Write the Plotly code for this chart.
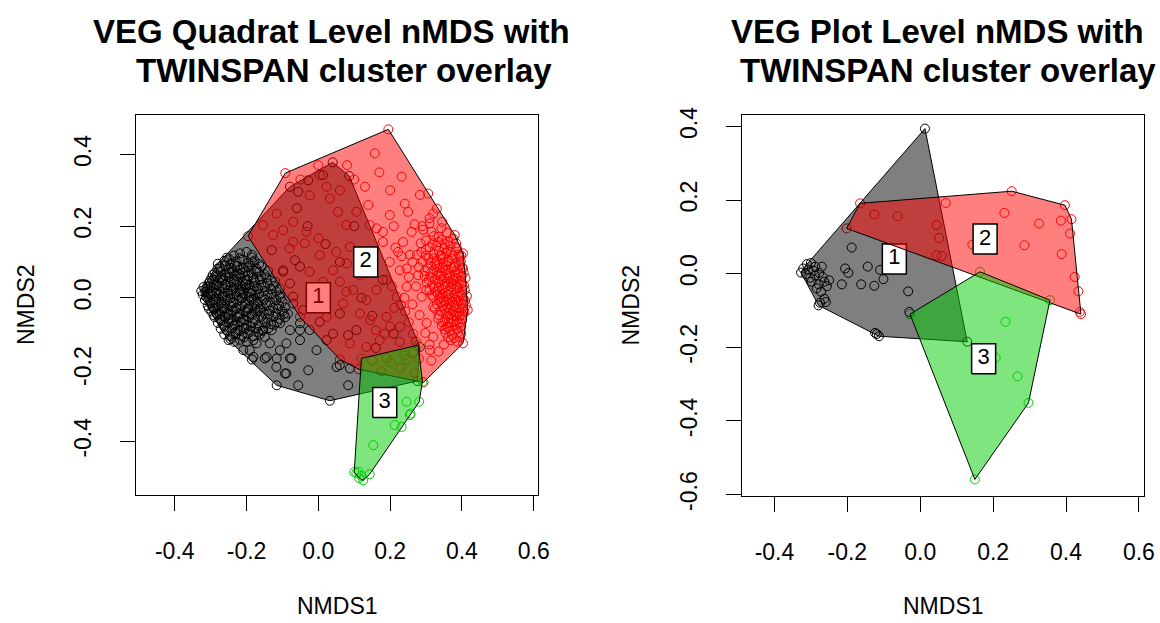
import plotly.graph_objects as go

# ---------------------------------------------------------------
# nMDS site scores (NMDS1, NMDS2) grouped by TWINSPAN cluster
# ---------------------------------------------------------------

# Quadrat level ordination
QUAD_CLUSTER1 = [
    (-0.326, 0.019), (-0.235, 0.118), (-0.218, 0.124), (-0.200, 0.128), (-0.186, 0.113),
    (-0.262, 0.103), (-0.248, 0.108), (-0.230, 0.101), (-0.212, 0.106), (-0.195, 0.098),
    (-0.178, 0.104), (-0.165, 0.094), (-0.275, 0.086), (-0.260, 0.090), (-0.243, 0.083),
    (-0.226, 0.089), (-0.208, 0.084), (-0.190, 0.090), (-0.173, 0.082), (-0.158, 0.088),
    (-0.288, 0.070), (-0.272, 0.075), (-0.255, 0.068), (-0.238, 0.073), (-0.220, 0.067),
    (-0.203, 0.074), (-0.186, 0.069), (-0.168, 0.071), (-0.150, 0.066), (-0.298, 0.055),
    (-0.283, 0.060), (-0.266, 0.053), (-0.250, 0.058), (-0.233, 0.052), (-0.216, 0.057),
    (-0.198, 0.050), (-0.181, 0.056), (-0.163, 0.052), (-0.145, 0.057), (-0.132, 0.048),
    (-0.306, 0.041), (-0.291, 0.036), (-0.276, 0.043), (-0.259, 0.037), (-0.243, 0.042),
    (-0.227, 0.035), (-0.210, 0.041), (-0.193, 0.036), (-0.176, 0.042), (-0.159, 0.035),
    (-0.141, 0.040), (-0.125, 0.033), (-0.315, 0.024), (-0.300, 0.028), (-0.285, 0.021),
    (-0.268, 0.026), (-0.252, 0.020), (-0.235, 0.027), (-0.219, 0.022), (-0.202, 0.028),
    (-0.185, 0.020), (-0.168, 0.025), (-0.150, 0.019), (-0.133, 0.024), (-0.117, 0.018),
    (-0.322, 0.009), (-0.307, 0.012), (-0.293, 0.005), (-0.277, 0.010), (-0.260, 0.004),
    (-0.244, 0.011), (-0.227, 0.006), (-0.210, 0.012), (-0.193, 0.003), (-0.176, 0.009),
    (-0.158, 0.004), (-0.141, 0.010), (-0.124, 0.002), (-0.108, 0.007), (-0.316, -0.006),
    (-0.301, -0.010), (-0.286, -0.004), (-0.270, -0.011), (-0.253, -0.005), (-0.237, -0.012),
    (-0.220, -0.006), (-0.203, -0.011), (-0.186, -0.004), (-0.169, -0.010), (-0.151, -0.005),
    (-0.134, -0.012), (-0.117, -0.006), (-0.100, -0.011), (-0.308, -0.022), (-0.294, -0.027),
    (-0.279, -0.020), (-0.262, -0.026), (-0.246, -0.021), (-0.229, -0.028), (-0.212, -0.022),
    (-0.195, -0.027), (-0.178, -0.020), (-0.161, -0.026), (-0.143, -0.021), (-0.126, -0.028),
    (-0.109, -0.022), (-0.093, -0.027), (-0.298, -0.038), (-0.284, -0.043), (-0.269, -0.037),
    (-0.253, -0.042), (-0.237, -0.036), (-0.220, -0.043), (-0.203, -0.038), (-0.186, -0.044),
    (-0.169, -0.037), (-0.152, -0.042), (-0.135, -0.036), (-0.118, -0.043), (-0.100, -0.038),
    (-0.085, -0.044), (-0.289, -0.054), (-0.274, -0.059), (-0.259, -0.053), (-0.243, -0.058),
    (-0.226, -0.052), (-0.210, -0.059), (-0.193, -0.054), (-0.176, -0.060), (-0.159, -0.053),
    (-0.142, -0.058), (-0.125, -0.052), (-0.108, -0.059), (-0.092, -0.054), (-0.280, -0.070),
    (-0.265, -0.075), (-0.249, -0.069), (-0.233, -0.074), (-0.216, -0.068), (-0.200, -0.075),
    (-0.183, -0.070), (-0.166, -0.076), (-0.149, -0.069), (-0.132, -0.074), (-0.115, -0.068),
    (-0.272, -0.086), (-0.256, -0.091), (-0.240, -0.085), (-0.223, -0.090), (-0.207, -0.084),
    (-0.190, -0.091), (-0.173, -0.086), (-0.156, -0.092), (-0.139, -0.085), (-0.262, -0.102),
    (-0.246, -0.107), (-0.230, -0.101), (-0.213, -0.106), (-0.197, -0.100), (-0.180, -0.107),
    (-0.163, -0.102), (-0.250, -0.118), (-0.234, -0.123), (-0.218, -0.117), (-0.200, -0.122),
    (-0.281, 0.081), (-0.250, 0.079), (-0.217, 0.078), (-0.294, 0.064), (-0.260, 0.063),
    (-0.228, 0.062), (-0.195, 0.062), (-0.302, 0.047), (-0.268, 0.048), (-0.236, 0.046),
    (-0.203, 0.047), (-0.310, 0.031), (-0.277, 0.032), (-0.244, 0.030), (-0.211, 0.031),
    (-0.178, 0.032), (-0.315, 0.016), (-0.284, 0.015), (-0.252, 0.014), (-0.219, 0.015),
    (-0.186, 0.013), (-0.309, -0.001), (-0.278, -0.002), (-0.245, 0.000), (-0.212, -0.001),
    (-0.179, -0.002), (-0.301, -0.016), (-0.270, -0.017), (-0.237, -0.015), (-0.204, -0.016),
    (-0.170, -0.017), (-0.291, -0.031), (-0.260, -0.032), (-0.228, -0.030), (-0.195, -0.031),
    (-0.162, -0.032), (-0.282, -0.047), (-0.250, -0.048), (-0.218, -0.046), (-0.185, -0.047),
    (-0.270, -0.063), (-0.238, -0.064), (-0.206, -0.062),
    (-0.320, 0.030), (-0.313, 0.003), (-0.305, -0.030), (-0.296, 0.018), (-0.289, 0.050),
    (-0.287, -0.012), (-0.280, 0.095), (-0.274, -0.045), (-0.271, 0.058), (-0.266, 0.005),
    (-0.262, -0.080), (-0.258, 0.035), (-0.255, 0.112), (-0.251, -0.060), (-0.247, 0.070),
    (-0.241, -0.025), (-0.239, 0.020), (-0.233, 0.090), (-0.231, -0.095), (-0.226, 0.045),
    (-0.222, -0.055), (-0.219, 0.110), (-0.214, 0.000), (-0.210, 0.070), (-0.207, -0.110),
    (-0.204, 0.038), (-0.199, -0.040), (-0.196, 0.085), (-0.191, 0.015), (-0.188, -0.080),
    (-0.183, 0.100), (-0.180, 0.050), (-0.176, -0.030), (-0.172, 0.075), (-0.168, -0.095),
    (-0.165, 0.010), (-0.160, 0.060), (-0.155, -0.060), (-0.150, 0.030), (-0.146, -0.015),
    (-0.140, 0.075), (-0.137, -0.045), (-0.130, 0.010), (-0.124, -0.075), (-0.120, 0.045),
    (-0.113, -0.030), (-0.105, 0.000), (-0.096, -0.045), (-0.300, 0.010), (-0.292, -0.048),
    (-0.283, 0.035), (-0.268, -0.030), (-0.245, 0.095), (-0.236, -0.078), (-0.215, 0.025),
    (-0.202, -0.085), (-0.185, 0.120),
    (-0.245, -0.115), (-0.185, -0.172), (-0.181, -0.165), (-0.144, -0.165), (-0.116, -0.169),
    (-0.079, -0.169), (-0.089, -0.211), (-0.028, -0.202), (-0.116, -0.244), (-0.056, -0.244),
    (0.032, -0.287), (0.083, -0.244), (0.051, -0.193), (0.088, -0.197), (-0.005, -0.146),
    (-0.051, -0.118), (-0.107, -0.146), (-0.079, -0.090), (-0.130, -0.090), (-0.107, -0.071),
    (-0.051, -0.071), (-0.172, -0.127), (-0.209, -0.146), (-0.051, -0.090), (-0.149, -0.109),
    (-0.089, -0.127), (-0.218, -0.090), (-0.181, -0.118), (-0.154, -0.090), (-0.191, -0.146),
    (-0.135, -0.127), (-0.149, -0.169), (-0.117, -0.193), (-0.075, -0.169), (-0.093, -0.211),
    (0.060, -0.188), (0.276, -0.232), (0.283, -0.137),
    (-0.079, 0.310), (-0.056, 0.296), (-0.028, 0.328), (0.013, 0.342), (0.040, 0.378),
    (0.086, 0.340), (-0.130, 0.133), (-0.098, 0.073), (-0.065, 0.105), (-0.051, 0.087),
    (-0.107, 0.026), (-0.070, 0.003), (-0.070, -0.016), (-0.042, -0.034), (-0.024, -0.090),
    (0.023, -0.118), (0.041, -0.100), (0.083, -0.104), (0.106, -0.090), (0.060, -0.044),
    (0.004, -0.067), (-0.098, 0.077), (-0.079, 0.040), (-0.030, 0.200), (0.020, 0.150),
    (-0.060, 0.250), (0.100, 0.200), (0.060, 0.100), (0.120, 0.000), (0.150, -0.050),
    (0.000, -0.020), (0.180, 0.050), (0.210, -0.100), (0.160, -0.140),
]

QUAD_CLUSTER2 = [
    (0.195, 0.470), (-0.092, 0.348), (-0.196, 0.172), (-0.051, -0.053), (0.060, -0.172),
    (0.112, -0.199), (0.293, -0.236), (0.403, -0.127), (0.416, -0.034), (0.403, 0.124),
    (0.380, 0.175), (0.306, 0.291),
    (0.157, 0.403), (0.232, 0.338), (0.241, 0.263), (0.283, 0.287), (0.320, 0.235),
    (0.310, 0.222), (0.330, 0.249), (0.394, 0.114), (0.403, 0.082), (-0.116, 0.235),
    (-0.070, 0.212), (-0.033, 0.184), (0.000, 0.166), (0.004, 0.342), (-0.024, 0.286),
    (0.023, 0.310), (0.060, 0.300), (0.032, 0.277), (0.055, 0.240), (0.106, 0.240),
    (0.078, 0.203), (0.143, 0.203), (0.162, 0.194), (0.180, 0.184), (0.139, 0.259),
    (0.199, 0.231), (0.180, 0.156), (0.236, 0.156), (0.260, 0.184), (0.222, 0.128),
    (0.255, 0.120), (0.287, 0.128), (0.315, 0.184), (0.343, 0.194), (0.334, 0.156),
    (0.199, 0.100), (0.246, 0.082), (0.278, 0.063), (0.004, 0.119), (0.050, 0.128),
    (0.088, 0.142), (-0.070, 0.156), (-0.038, 0.152), (-0.154, 0.203), (-0.126, 0.175),
    (-0.098, 0.189), (-0.080, 0.138), (-0.024, 0.073), (0.013, 0.045), (0.060, 0.045),
    (0.116, 0.063), (0.153, 0.073), (0.078, 0.017), (-0.050, 0.330), (0.000, 0.370),
    (0.100, 0.330), (0.130, 0.310), (0.080, 0.370), (0.200, 0.300), (0.170, 0.350),
    (0.250, 0.240), (0.210, 0.200), (0.290, 0.200),
    (0.097, 0.022), (0.134, -0.006), (0.162, 0.022), (0.190, 0.050), (0.227, 0.077),
    (0.190, -0.053), (0.227, -0.081), (0.185, -0.100), (0.144, -0.062), (0.116, -0.044),
    (0.088, -0.127), (0.134, -0.137), (0.171, -0.118), (0.227, -0.123), (0.264, -0.100),
    (0.023, -0.053), (0.069, -0.016), (-0.005, 0.022), (0.041, 0.077), (0.079, 0.096),
    (0.246, 0.031), (0.301, 0.022), (0.320, -0.025), (0.339, 0.003), (0.376, 0.049),
    (0.320, -0.109), (0.357, -0.081), (0.311, -0.146),
    (0.150, -0.175), (0.190, -0.168), (0.245, -0.172), (0.228, -0.196), (0.175, -0.205),
    (0.265, -0.152), (0.270, -0.210),
    (0.345, 0.162), (0.362, 0.157), (0.376, 0.165), (0.310, 0.141), (0.329, 0.145),
    (0.351, 0.138), (0.368, 0.146), (0.386, 0.139), (0.300, 0.118), (0.321, 0.123),
    (0.340, 0.116), (0.357, 0.124), (0.374, 0.118), (0.392, 0.121), (0.291, 0.101),
    (0.312, 0.097), (0.330, 0.104), (0.347, 0.098), (0.364, 0.103), (0.381, 0.096),
    (0.397, 0.102), (0.304, 0.082), (0.322, 0.077), (0.338, 0.084), (0.355, 0.078),
    (0.371, 0.083), (0.388, 0.077), (0.401, 0.084), (0.296, 0.061), (0.315, 0.057),
    (0.333, 0.063), (0.350, 0.058), (0.366, 0.062), (0.383, 0.056), (0.399, 0.061),
    (0.410, 0.055), (0.302, 0.042), (0.318, 0.037), (0.336, 0.043), (0.352, 0.038),
    (0.369, 0.044), (0.386, 0.036), (0.400, 0.041), (0.310, 0.021), (0.328, 0.017),
    (0.345, 0.023), (0.362, 0.018), (0.378, 0.024), (0.394, 0.016), (0.408, 0.022),
    (0.320, 0.002), (0.338, -0.003), (0.355, 0.003), (0.372, -0.002), (0.389, 0.004),
    (0.404, -0.003), (0.414, 0.005), (0.330, -0.018), (0.348, -0.023), (0.365, -0.017),
    (0.382, -0.022), (0.398, -0.016), (0.411, -0.021), (0.341, -0.038), (0.358, -0.043),
    (0.375, -0.037), (0.392, -0.042), (0.407, -0.039), (0.334, -0.058), (0.352, -0.063),
    (0.370, -0.057), (0.386, -0.062), (0.401, -0.059), (0.344, -0.078), (0.362, -0.083),
    (0.380, -0.077), (0.396, -0.082), (0.354, -0.098), (0.372, -0.103), (0.389, -0.097),
    (0.369, -0.118), (0.386, -0.122),
    (0.336, 0.131), (0.360, 0.131), (0.320, 0.110), (0.347, 0.110), (0.373, 0.110),
    (0.330, 0.090), (0.356, 0.090), (0.380, 0.089), (0.343, 0.070), (0.360, 0.069),
    (0.390, 0.069), (0.325, 0.050), (0.344, 0.050), (0.377, 0.050), (0.336, 0.030),
    (0.353, 0.030), (0.370, 0.030), (0.386, 0.028), (0.346, 0.010), (0.363, 0.010),
    (0.380, 0.010), (0.397, 0.009), (0.356, -0.010), (0.373, -0.010), (0.390, -0.010),
    (0.366, -0.030), (0.383, -0.030), (0.400, -0.030), (0.360, -0.050), (0.378, -0.050),
    (0.394, -0.050), (0.371, -0.070), (0.389, -0.070),
    (0.300, 0.135), (0.318, 0.152), (0.335, 0.170), (0.352, 0.150), (0.370, 0.128),
    (0.384, 0.152), (0.398, 0.118), (0.307, 0.110), (0.326, 0.095), (0.343, 0.120),
    (0.360, 0.100), (0.378, 0.085), (0.392, 0.090), (0.297, 0.075), (0.313, 0.068),
    (0.331, 0.072), (0.347, 0.085), (0.365, 0.055), (0.380, 0.064), (0.395, 0.048),
    (0.405, 0.070), (0.308, 0.050), (0.323, 0.030), (0.340, 0.060), (0.358, 0.045),
    (0.374, 0.038), (0.390, 0.030), (0.406, 0.035), (0.316, 0.008), (0.333, 0.010),
    (0.350, -0.008), (0.366, 0.000), (0.384, -0.005), (0.400, 0.005), (0.325, -0.030),
    (0.342, -0.010), (0.360, -0.028), (0.377, -0.020), (0.393, -0.030), (0.409, -0.008),
    (0.336, -0.048), (0.352, -0.035), (0.368, -0.045), (0.385, -0.050), (0.402, -0.048),
    (0.346, -0.068), (0.362, -0.070), (0.378, -0.065), (0.395, -0.070), (0.352, -0.088),
    (0.368, -0.092), (0.385, -0.088), (0.398, -0.100), (0.362, -0.110), (0.378, -0.112),
    (0.395, -0.110),
    (0.215, 0.140), (0.232, 0.116), (0.262, 0.100), (0.280, 0.085), (0.252, 0.058),
    (0.272, 0.032), (0.288, 0.003), (0.262, -0.018), (0.282, -0.048), (0.302, -0.070),
    (0.298, -0.098), (0.242, -0.038), (0.218, 0.003), (0.205, 0.032), (0.212, -0.028),
    (0.252, -0.068), (0.272, -0.122), (0.310, -0.130), (0.285, 0.152), (0.268, 0.205),
    (0.292, 0.190), (0.310, 0.208), (0.322, 0.172), (0.358, 0.182), (0.345, 0.212),
    (0.275, 0.120), (0.300, 0.160), (0.240, 0.000), (0.230, -0.020), (0.200, -0.080),
    (0.160, -0.090), (0.280, -0.170), (0.315, -0.175), (0.335, -0.150), (0.350, -0.130),
]

QUAD_CLUSTER3 = [
    (0.120, -0.169), (0.278, -0.132), (0.290, -0.234), (0.281, -0.290), (0.257, -0.323),
    (0.232, -0.360), (0.153, -0.411), (0.106, -0.488), (0.125, -0.509), (0.143, -0.492),
    (0.100, -0.486), (0.112, -0.485), (0.120, -0.497), (0.114, -0.503), (0.246, -0.290),
    (0.255, -0.327), (0.213, -0.355), (0.200, -0.180), (0.240, -0.160),
]

# Plot level ordination
PLOT_CLUSTER1 = [
    (0.013, 0.394), (-0.188, 0.071), (-0.206, 0.014), (-0.197, 0.002), (-0.144, 0.019),
    (-0.110, 0.010), (-0.101, -0.015), (-0.126, -0.033), (-0.162, -0.029), (-0.215, -0.029),
    (-0.033, -0.048), (-0.030, -0.104), (-0.124, -0.161), (-0.113, -0.170), (-0.119, -0.164),
    (0.129, -0.185), (-0.327, 0.003), (-0.321, 0.014), (-0.311, 0.026), (-0.300, 0.029),
    (-0.288, 0.019), (-0.314, -0.001), (-0.302, -0.011), (-0.288, -0.005), (-0.277, 0.002),
    (-0.268, -0.009), (-0.298, -0.022), (-0.279, -0.029), (-0.263, -0.022), (-0.256, -0.034),
    (-0.284, -0.040), (-0.272, -0.049), (-0.263, -0.068), (-0.275, -0.079), (-0.279, -0.086),
    (-0.259, -0.077), (-0.250, -0.018), (-0.293, 0.008), (-0.270, 0.019), (-0.307, 0.011),
]

PLOT_CLUSTER2 = [
    (-0.165, 0.191), (-0.202, 0.123), (-0.126, 0.161), (-0.062, 0.156), (0.045, 0.132),
    (0.052, 0.097), (0.045, 0.050), (0.059, 0.048), (0.070, 0.192), (0.143, 0.079),
    (0.231, 0.165), (0.251, 0.224), (0.286, 0.077), (0.326, 0.136), (0.386, 0.144),
    (0.415, 0.148), (0.411, 0.109), (0.388, 0.053), (0.397, 0.186), (0.424, -0.009),
    (0.434, -0.048), (0.438, -0.104), (0.441, -0.110),
]

PLOT_CLUSTER3 = [
    (0.164, 0.005), (0.356, -0.072), (0.234, -0.131), (0.267, -0.279), (0.297, -0.351),
    (0.150, -0.559), (-0.028, -0.110), (0.207, -0.228),
]

# Cluster label centres (cluster id, NMDS1, NMDS2)
QUAD_LABELS = [("1", 0.000, 0.000), ("2", 0.132, 0.100), ("3", 0.185, -0.292)]
PLOT_LABELS = [("1", -0.071, 0.040), ("2", 0.178, 0.094), ("3", 0.174, -0.231)]

X_TICKS = [-0.4, -0.2, 0.0, 0.2, 0.4, 0.6]
X_TICK_TEXT = ["-0.4", "-0.2", "0.0", "0.2", "0.4", "0.6"]
QUAD_Y_TICKS = [-0.4, -0.2, 0.0, 0.2, 0.4]
QUAD_Y_TICK_TEXT = ["-0.4", "-0.2", "0.0", "0.2", "0.4"]
PLOT_Y_TICKS = [-0.6, -0.4, -0.2, 0.0, 0.2, 0.4]
PLOT_Y_TICK_TEXT = ["-0.6", "-0.4", "-0.2", "0.0", "0.2", "0.4"]

QUAD_XLIM, QUAD_YLIM = (-0.508, 0.612), (-0.550, 0.510)
PLOT_XLIM, PLOT_YLIM = (-0.489, 0.614), (-0.604, 0.431)

TITLES = [
    ("VEG Quadrat Level nMDS with", "TWINSPAN cluster overlay"),
    ("VEG Plot Level nMDS with", "TWINSPAN cluster overlay"),
]

# ---------------------------------------------------------------
# styling / page geometry (pixels)
# ---------------------------------------------------------------
W, H = 1160, 623
FONT = "Liberation Sans, Arial, Helvetica, sans-serif"
POINT_COLORS = ["#000000", "#FF0000", "#00CD00"]
HULL_FILLS = ["rgba(0,0,0,0.5)", "rgba(255,0,0,0.5)", "rgba(0,205,0,0.5)"]
PANELS = [
    dict(left=136, right=538, top=115, bottom=495),
    dict(left=742, right=1144, top=115, bottom=496),
]
LABEL_HALF_W, LABEL_HALF_H = 12, 15
TICK_FONT_SIZE = 23
TITLE_FONT_SIZE = 33


def convex_hull(points):
    pts = sorted(set(points))

    def cross(o, a, b):
        return (a[0] - o[0]) * (b[1] - o[1]) - (a[1] - o[1]) * (b[0] - o[0])

    lower, upper = [], []
    for p in pts:
        while len(lower) >= 2 and cross(lower[-2], lower[-1], p) <= 0:
            lower.pop()
        lower.append(p)
    for p in reversed(pts):
        while len(upper) >= 2 and cross(upper[-2], upper[-1], p) <= 0:
            upper.pop()
        upper.append(p)
    hull = lower[:-1] + upper[:-1]
    return hull + hull[:1]


fig = go.Figure()

datasets = [
    ([QUAD_CLUSTER1, QUAD_CLUSTER2, QUAD_CLUSTER3], QUAD_LABELS, QUAD_XLIM, QUAD_YLIM),
    ([PLOT_CLUSTER1, PLOT_CLUSTER2, PLOT_CLUSTER3], PLOT_LABELS, PLOT_XLIM, PLOT_YLIM),
]

for k, (groups, labels, xlim, ylim) in enumerate(datasets):
    xa, ya = ("x", "y") if k == 0 else ("x2", "y2")
    pan = PANELS[k]
    ux = (xlim[1] - xlim[0]) / (pan["right"] - pan["left"])
    uy = (ylim[1] - ylim[0]) / (pan["bottom"] - pan["top"])
    hw, hh = LABEL_HALF_W * ux, LABEL_HALF_H * uy

    # site points first
    for g, pts in enumerate(groups):
        fig.add_trace(go.Scatter(
            x=[p[0] for p in pts], y=[p[1] for p in pts], xaxis=xa, yaxis=ya,
            mode="markers", hoverinfo="skip",
            marker=dict(symbol="circle-open", size=9, color=POINT_COLORS[g],
                        line=dict(width=1, color=POINT_COLORS[g])),
        ))

    # hull + label per cluster, in cluster order
    for g, pts in enumerate(groups):
        hull = convex_hull(pts)
        fig.add_trace(go.Scatter(
            x=[p[0] for p in hull], y=[p[1] for p in hull], xaxis=xa, yaxis=ya,
            mode="lines", fill="toself", fillcolor=HULL_FILLS[g],
            line=dict(color="black", width=1), hoverinfo="skip",
        ))
        name, cx, cy = labels[g]
        fig.add_trace(go.Scatter(
            x=[cx - hw, cx + hw, cx + hw, cx - hw, cx - hw],
            y=[cy - hh, cy - hh, cy + hh, cy + hh, cy - hh],
            xaxis=xa, yaxis=ya, mode="lines", fill="toself", fillcolor="white",
            line=dict(color="black", width=1.5), hoverinfo="skip",
        ))
        fig.add_trace(go.Scatter(
            x=[cx], y=[cy], xaxis=xa, yaxis=ya, mode="text", text=[name],
            textposition="middle center", hoverinfo="skip",
            textfont=dict(family=FONT, size=22, color="black"),
        ))

axis_common = dict(
    showgrid=False, zeroline=False, showline=True, mirror=True,
    linecolor="black", linewidth=1, ticks="outside", ticklen=15,
    tickwidth=1, tickcolor="black",
    tickfont=dict(family=FONT, size=TICK_FONT_SIZE, color="black"),
    fixedrange=True, automargin=False,
)


def dom_x(p):
    return [p["left"] / W, p["right"] / W]


def dom_y(p):
    return [1 - p["bottom"] / H, 1 - p["top"] / H]


fig.update_layout(
    width=W, height=H, margin=dict(l=0, r=0, t=0, b=0, pad=0, autoexpand=False),
    paper_bgcolor="white", plot_bgcolor="white", showlegend=False,
    xaxis=dict(axis_common, domain=dom_x(PANELS[0]), range=list(QUAD_XLIM), anchor="y",
               tickvals=X_TICKS, ticktext=X_TICK_TEXT, ticklabelstandoff=20),
    yaxis=dict(axis_common, domain=dom_y(PANELS[0]), range=list(QUAD_YLIM), anchor="x",
               tickvals=QUAD_Y_TICKS, ticktext=QUAD_Y_TICK_TEXT, tickangle=-90,
               ticklabelstandoff=20),
    xaxis2=dict(axis_common, domain=dom_x(PANELS[1]), range=list(PLOT_XLIM), anchor="y2",
                tickvals=X_TICKS, ticktext=X_TICK_TEXT, ticklabelstandoff=20),
    yaxis2=dict(axis_common, domain=dom_y(PANELS[1]), range=list(PLOT_YLIM), anchor="x2",
                tickvals=PLOT_Y_TICKS, ticktext=PLOT_Y_TICK_TEXT, tickangle=-90,
                ticklabelstandoff=20),
)

annotations = []
title_pos = [((331.5, 32), (344, 70)), ((937, 32), (948, 70))]
for k, (l1, l2) in enumerate(TITLES):
    for text, (px, py) in zip((l1, l2), title_pos[k]):
        annotations.append(dict(
            text=f"<b>{text}</b>", x=px / W, y=1 - py / H, xref="paper", yref="paper",
            xanchor="center", yanchor="middle", showarrow=False,
            font=dict(family=FONT, size=TITLE_FONT_SIZE, color="black"),
        ))
for k, pan in enumerate(PANELS):
    cx = (pan["left"] + pan["right"]) / 2
    cy = (pan["top"] + pan["bottom"]) / 2
    annotations.append(dict(
        text="NMDS1", x=cx / W, y=1 - 606 / H, xref="paper", yref="paper",
        xanchor="center", yanchor="middle", showarrow=False,
        font=dict(family=FONT, size=TICK_FONT_SIZE, color="black"),
    ))
    annotations.append(dict(
        text="NMDS2", x=(26 if k == 0 else 630) / W, y=1 - cy / H, xref="paper",
        yref="paper", xanchor="center", yanchor="middle", showarrow=False,
        textangle=-90, font=dict(family=FONT, size=TICK_FONT_SIZE, color="black"),
    ))
fig.update_layout(annotations=annotations)

fig.write_html("out.html")
